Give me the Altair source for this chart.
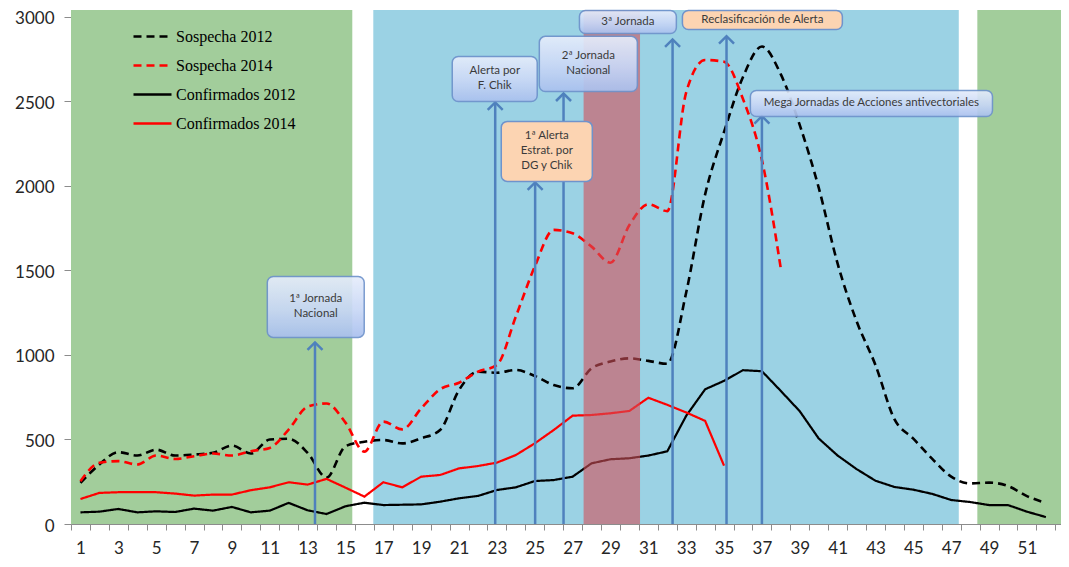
import altair as alt
import pandas as pd

weeks = list(range(1, 53))

sospecha_2012 = [243, 352, 425, 405, 440, 405, 411, 421, 464, 417,
                 500, 504, 421, 275, 460, 487, 497, 477, 507, 556,
                 793, 901, 895, 911, 876, 822, 803, 921, 961, 980,
                 965, 948, 1370, 1950, 2320, 2645, 2825, 2660, 2360, 1990,
                 1540, 1200, 940, 620, 505, 385, 280, 240, 245, 225,
                 165, 125]
sospecha_2014 = [253, 362, 372, 352, 405, 385, 401, 417, 405, 431,
                 450, 559, 694, 713, 600, 428, 606, 560, 684, 797,
                 836, 901, 941, 1227, 1523, 1740, 1720, 1641, 1546, 1769,
                 1892, 1851, 2554, 2745, 2735, 2514, 2153, 1510]
confirmados_2012 = [69, 73, 89, 69, 75, 71, 91, 79, 101, 69,
                    79, 125, 81, 59, 105, 126, 112, 114, 116, 132,
                    152, 166, 201, 217, 254, 260, 280, 359, 383, 389,
                    405, 430, 640, 797, 847, 910, 904, 787, 667, 506,
                    405, 325, 256, 219, 203, 178, 142, 130, 112, 112,
                    73, 41]
confirmados_2014 = [148, 184, 188, 188, 188, 180, 168, 174, 174, 200,
                    217, 247, 233, 267, 215, 162, 247, 217, 280, 290,
                    329, 343, 363, 408, 477, 556, 641, 645, 655, 669,
                    747, 705, 660, 610, 345]

series_names = ["Sospecha 2012", "Sospecha 2014", "Confirmados 2012", "Confirmados 2014"]

# background periods (in week units)
period_start = [0.5, 16.47, 48.38]
period_end = [15.36, 47.4, 52.8]
period_kind = ["verde", "azul", "verde"]
rosa_start = [27.58]
rosa_end = [30.56]

# annotation arrows
arrow_week = [13.39, 22.91, 25.02, 26.52, 32.28, 35.13, 37.0]
arrow_top = [1074, 2494, 2021, 2547, 2867, 2886, 2413]

# annotation boxes
box_text = ["1ª Jornada\nNacional", "Alerta por\nF. Chik", "1ª Alerta\nEstrat. por\nDG y Chik",
            "2ª Jornada\nNacional", "3ª Jornada", "Reclasificación de Alerta",
            "Mega Jornadas  de Acciones antivectoriales"]
box_kind = ["azul", "azul", "naranja", "azul", "azul", "naranja", "azul"]
box_w0 = [10.87, 20.64, 23.23, 25.24, 27.36, 32.8, 36.39]
box_w1 = [15.99, 25.13, 28.04, 30.42, 32.48, 41.25, 49.18]
box_top = [1464, 2766, 2382, 2885, 3038, 3038, 2565]
box_bottom = [1104, 2500, 2027, 2559, 2902, 2926, 2411]

Y_TOP = 3041

# ---------- tables ----------
rows = []
for name, vals in zip(series_names, [sospecha_2012, sospecha_2014, confirmados_2012, confirmados_2014]):
    for w, v in zip(weeks, vals):
        rows.append({"semana": w, "casos": v, "serie": name})
df_lines = pd.DataFrame(rows)
df_periods = pd.DataFrame({"w0": period_start, "w1": period_end, "tipo": period_kind})
df_rosa = pd.DataFrame({"w0": rosa_start, "w1": rosa_end})
df_arrows = pd.DataFrame({"semana": arrow_week, "tope": arrow_top})
df_boxes = pd.DataFrame({"texto": box_text, "tipo": box_kind, "w0": box_w0, "w1": box_w1,
                         "v0": box_top, "v1": box_bottom})
df_boxes["lineas"] = [t.count("\n") + 1 for t in box_text]

# ---------- scales / axes ----------
x_scale = alt.Scale(domain=[0.5, 52.8], nice=False, zero=False)
y_scale = alt.Scale(domain=[0, Y_TOP], nice=False, zero=True)

tick_vals = sorted([i + 0.5 for i in range(0, 53)] + list(range(1, 52, 2)))
x_axis = alt.Axis(
    values=tick_vals, title=None, grid=False,
    labelExpr="datum.value % 2 == 1 ? datum.value : ''",
    tickOpacity={"condition": {"test": "datum.value % 1 == 0", "value": 0}, "value": 1},
    labelOverlap=False, labelFlush=False, labelBound=False,
    tickSize=6, labelPadding=10, domainColor="#8c8c8c", tickColor="#8c8c8c",
    labelFont="Lato", labelFontSize=17, labelColor="#262626", labelAngle=0,
)
y_axis = alt.Axis(
    values=[0, 500, 1000, 1500, 2000, 2500, 3000], title=None, grid=False, format="d",
    tickSize=7, labelPadding=10, labelOffset=2, domainColor="#8c8c8c", tickColor="#8c8c8c",
    labelFont="Lato", labelFontSize=17, labelColor="#262626",
)

X = lambda f: alt.X(f, type="quantitative", scale=x_scale, axis=x_axis)
Y = lambda f: alt.Y(f, type="quantitative", scale=y_scale, axis=y_axis)

# ---------- layers ----------
bg = alt.Chart(df_periods).mark_rect().encode(
    x=X("w0"), x2="w1",
    y=alt.Y("z0:Q", scale=y_scale, axis=y_axis), y2="z1:Q",
    fill=alt.Fill("tipo:N", scale=alt.Scale(domain=["verde", "azul"], range=["#a2cd9b", "#9bd2e4"]), legend=None),
).transform_calculate(z0="0", z1=str(Y_TOP))

legend_cfg = dict(
    orient="none", legendX=61, legendY=6, title=None,
    symbolType="stroke", symbolSize=1444, symbolStrokeWidth=2.5,
    labelFont="Liberation Serif", labelFontSize=16, labelColor="#000000",
    labelOffset=3, rowPadding=0, padding=0, symbolLimit=0,
)
stroke_enc = alt.Stroke("serie:N", scale=alt.Scale(domain=series_names,
                        range=["#000000", "#ff0000", "#000000", "#ff0000"]),
                        legend=alt.Legend(**legend_cfg))
dash_enc = alt.StrokeDash("serie:N", scale=alt.Scale(domain=series_names,
                          range=[[8, 5], [8, 5], [1, 0], [1, 0]]),
                          legend=alt.Legend(**legend_cfg))

dashed = alt.Chart(df_lines).transform_filter(
    alt.FieldOneOfPredicate(field="serie", oneOf=series_names[:2])
).mark_line(strokeWidth=2.6, interpolate="monotone").encode(
    x=X("semana"), y=Y("casos"), stroke=stroke_enc, strokeDash=dash_enc,
    detail="serie:N",
)
solid = alt.Chart(df_lines).transform_filter(
    alt.FieldOneOfPredicate(field="serie", oneOf=series_names[2:])
).mark_line(strokeWidth=2.2).encode(
    x=X("semana"), y=Y("casos"), stroke=stroke_enc, strokeDash=dash_enc,
    detail="serie:N",
)

rosa = alt.Chart(df_rosa).mark_rect(color="#d2505a", opacity=0.6).encode(
    x=X("w0"), x2="w1", y=alt.Y("z0:Q", scale=y_scale, axis=y_axis), y2="z1:Q",
).transform_calculate(z0="0", z1=str(Y_TOP))

arrow_lines = alt.Chart(df_arrows).mark_rule(color="#4f81bd", strokeWidth=2.5).encode(
    x=X("semana"), y=alt.Y("z0:Q", scale=y_scale, axis=y_axis), y2="tope:Q",
).transform_calculate(z0="0")
arrow_heads = alt.Chart(df_arrows).mark_point(
    shape="M-1,1L0,0L1,1", filled=False, size=225, strokeWidth=2.5,
    color="#4f81bd", opacity=1,
).encode(x=X("semana"), y=Y("tope"))

blue_grad = alt.Gradient(
    gradient="linear", x1=0, y1=0, x2=0, y2=1,
    stops=[alt.GradientStop(color="#e6edfb", offset=0),
           alt.GradientStop(color="#c8d7f6", offset=0.55),
           alt.GradientStop(color="#a9c0ee", offset=1)],
)
boxes_blue = alt.Chart(df_boxes).transform_filter("datum.tipo == 'azul'").mark_rect(
    color=blue_grad, stroke="#6f93cc", strokeWidth=1.5, cornerRadius=6, opacity=0.92,
).encode(x=X("w0"), x2="w1", y=Y("v0"), y2="v1")
boxes_orange = alt.Chart(df_boxes).transform_filter("datum.tipo == 'naranja'").mark_rect(
    color="#fcd4b2", stroke="#6f93cc", strokeWidth=1.5, cornerRadius=6,
).encode(x=X("w0"), x2="w1", y=Y("v0"), y2="v1")

LINE_H = 15


def box_label_layer(n):
    return alt.Chart(df_boxes).transform_filter(f"datum.lineas == {n}").transform_calculate(
        xm="(datum.w0 + datum.w1) / 2", ym="(datum.v0 + datum.v1) / 2",
    ).mark_text(
        font="Lato", fontSize=11.5, color="#3a3a3a", lineBreak="\n", lineHeight=LINE_H,
        align="center", baseline="middle", dy=-(n - 1) * LINE_H / 2,
    ).encode(x=X("xm:Q"), y=Y("ym:Q"), text="texto:N")


labels_1 = box_label_layer(1)
labels_2 = box_label_layer(2)
labels_3 = box_label_layer(3)

chart = alt.layer(
    bg, dashed, solid, rosa, arrow_lines, arrow_heads, boxes_blue, boxes_orange,
    labels_1, labels_2, labels_3,
).properties(
    width=990, height=514,
    autosize=alt.AutoSizeParams(type="none"),
    padding={"left": 63, "top": 2, "right": 0, "bottom": 35},
    background="#ffffff",
).configure_view(stroke=None)

chart.save("out.html", embed_options={"renderer": "svg", "actions": False})
